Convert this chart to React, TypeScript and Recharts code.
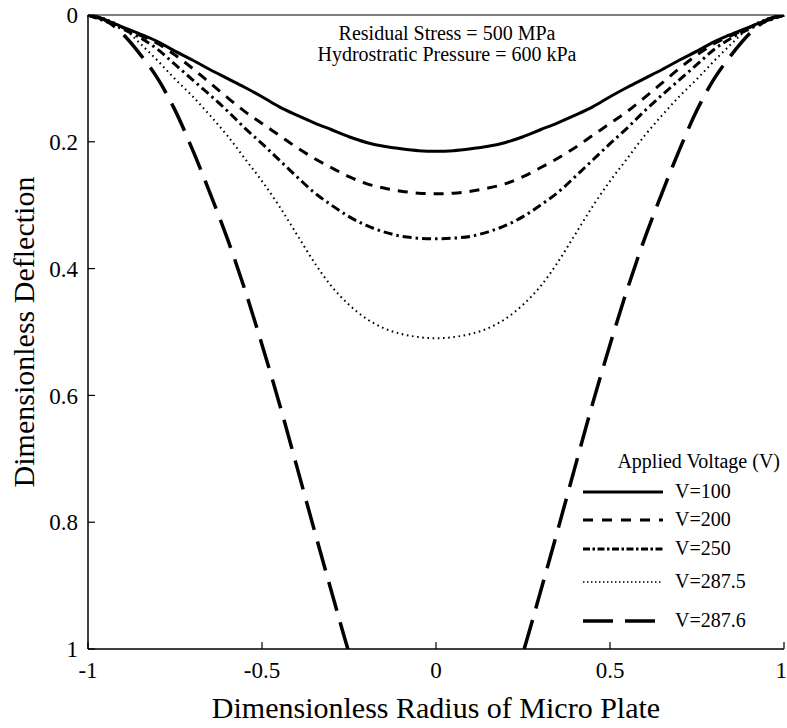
import React from 'react';
import { LineChart, Line, XAxis, YAxis, Legend, ReferenceLine } from 'recharts';

const FONT = "'Liberation Serif', 'Times New Roman', Times, 'DejaVu Serif', serif";

// Dimensionless radius positions
const radius = [
  -1, -0.95, -0.9, -0.85, -0.8, -0.75, -0.7, -0.65, -0.6, -0.55, -0.5,
  -0.45, -0.4, -0.35, -0.3, -0.25, -0.2, -0.15, -0.1, -0.05, 0,
  0.05, 0.1, 0.15, 0.2, 0.25, 0.3, 0.35, 0.4, 0.45, 0.5,
  0.55, 0.6, 0.65, 0.7, 0.75, 0.8, 0.85, 0.9, 0.95, 1,
];

// Dimensionless deflection for each applied voltage
const v100 = [
  0, 0.008, 0.019, 0.03, 0.042, 0.057, 0.071, 0.086, 0.1, 0.114, 0.129,
  0.145, 0.158, 0.17, 0.181, 0.192, 0.201, 0.207, 0.211, 0.214, 0.215,
  0.214, 0.211, 0.207, 0.201, 0.192, 0.181, 0.17, 0.158, 0.145, 0.129,
  0.114, 0.1, 0.086, 0.071, 0.057, 0.042, 0.03, 0.019, 0.008, 0,
];
const v200 = [
  0, 0.009, 0.02, 0.032, 0.045, 0.063, 0.084, 0.107, 0.13, 0.152, 0.171,
  0.19, 0.209, 0.226, 0.241, 0.255, 0.266, 0.273, 0.278, 0.281, 0.282,
  0.281, 0.278, 0.273, 0.266, 0.255, 0.241, 0.226, 0.209, 0.19, 0.171,
  0.152, 0.13, 0.107, 0.084, 0.063, 0.045, 0.032, 0.02, 0.009, 0,
];
const v250 = [
  0, 0.01, 0.022, 0.036, 0.054, 0.078, 0.102, 0.126, 0.151, 0.178, 0.203,
  0.229, 0.255, 0.28, 0.3, 0.318, 0.332, 0.342, 0.349, 0.352, 0.353,
  0.352, 0.349, 0.342, 0.332, 0.318, 0.3, 0.28, 0.255, 0.229, 0.203,
  0.178, 0.151, 0.126, 0.102, 0.078, 0.054, 0.036, 0.022, 0.01, 0,
];
const v2875 = [
  0, 0.006, 0.02, 0.045, 0.072, 0.101, 0.128, 0.158, 0.19, 0.226, 0.262,
  0.302, 0.346, 0.39, 0.428, 0.457, 0.479, 0.494, 0.503, 0.508, 0.51,
  0.508, 0.503, 0.494, 0.479, 0.457, 0.428, 0.39, 0.346, 0.302, 0.262,
  0.226, 0.19, 0.158, 0.128, 0.101, 0.072, 0.045, 0.02, 0.006, 0,
];
const v2876 = [
  0, 0.008, 0.03, 0.062, 0.1, 0.15, 0.212, 0.28, 0.352, 0.432, 0.52,
  0.613, 0.712, 0.812, 0.91, 1.006, 1.09, 1.15, 1.19, 1.215, 1.225,
  1.215, 1.19, 1.15, 1.09, 1.006, 0.91, 0.812, 0.712, 0.613, 0.52,
  0.432, 0.352, 0.28, 0.212, 0.15, 0.1, 0.062, 0.03, 0.008, 0,
];

const xTicks = [-1, -0.5, 0, 0.5, 1];
const yTicks = [0, 0.2, 0.4, 0.6, 0.8, 1];

const seriesNames = ['V=100', 'V=200', 'V=250', 'V=287.5', 'V=287.6'];
const seriesKeys = ['v100', 'v200', 'v250', 'v2875', 'v2876'];
const seriesValues = [v100, v200, v250, v2875, v2876];

const lineStyles = [
  { dash: undefined as string | undefined, width: 3, legendDash: undefined as string | undefined },
  { dash: '10 8', width: 3, legendDash: '10 9' },
  { dash: '9 4 2.5 4', width: 3, legendDash: '7 2.5 2.5 2.5' },
  { dash: '1.6 3.6', width: 2, legendDash: '1.5 2.5' },
  { dash: '30 12', width: 3.5, legendDash: '30 12' },
];

const data = radius.map((x, i) => {
  const row: Record<string, number> = { x };
  seriesKeys.forEach((k, j) => {
    row[k] = seriesValues[j][i];
  });
  return row;
});

const legendRows = [52, 80, 109, 142, 181];

const LegendBox = () => (
  <svg width={215} height={200} style={{ display: 'block', overflow: 'visible' }}>
    <text x={205} y={28} textAnchor="end" fontSize={20} style={{ fontFamily: FONT }} fill="#000">
      Applied Voltage (V)
    </text>
    {seriesNames.map((name, i) => (
      <g key={name}>
        <line
          x1={8}
          x2={88}
          y1={legendRows[i]}
          y2={legendRows[i]}
          stroke="#000"
          strokeWidth={i === 3 ? 1.5 : lineStyles[i].width}
          strokeDasharray={lineStyles[i].legendDash}
        />
        <text x={100} y={legendRows[i] + 6} fontSize={20} style={{ fontFamily: FONT }} fill="#000">
          {name}
        </text>
      </g>
    ))}
  </svg>
);

const Annotation = () => (
  <g>
    <text x={447} y={40} textAnchor="middle" fontSize={20} style={{ fontFamily: FONT }} fill="#000">
      Residual Stress = 500 MPa
    </text>
    <text x={447} y={61} textAnchor="middle" fontSize={20} style={{ fontFamily: FONT }} fill="#000">
      Hydrostratic Pressure = 600 kPa
    </text>
  </g>
);

const YTitle = () => (
  <text
    x={34}
    y={332}
    transform="rotate(-90 34 332)"
    textAnchor="middle"
    fontSize={30}
    style={{ fontFamily: FONT }}
    fill="#000"
  >
    Dimensionless Deflection
  </text>
);

const XTitle = () => (
  <text x={436} y={718} textAnchor="middle" fontSize={30} style={{ fontFamily: FONT }} fill="#000">
    Dimensionless Radius of Micro Plate
  </text>
);

const tickStyle = { fill: '#000', fontSize: 23, style: { fontFamily: FONT } };

export default function App() {
  return (
    <div style={{ position: 'absolute', left: 0, top: 0, width: 787, height: 728, background: '#fff', fontFamily: FONT }}>
      <LineChart
        width={787}
        height={728}
        data={data}
        margin={{ top: 15, right: 3, bottom: 0, left: 0 }}
        style={{ fontFamily: FONT }}
      >
        <XAxis
          dataKey="x"
          type="number"
          domain={[-1, 1]}
          ticks={xTicks}
          height={79}
          tick={tickStyle}
          tickSize={-7}
          tickMargin={20}
          axisLine={{ stroke: '#000', strokeWidth: 1.5 }}
          tickLine={{ stroke: '#000', strokeWidth: 1.2 }}
          label={() => <XTitle />}
        />
        <YAxis
          type="number"
          domain={[0, 1]}
          reversed
          allowDataOverflow
          ticks={yTicks}
          width={88}
          tick={tickStyle}
          tickSize={-7}
          tickMargin={17}
          axisLine={{ stroke: '#000', strokeWidth: 1.5 }}
          tickLine={{ stroke: '#000', strokeWidth: 1.2 }}
          label={() => <YTitle />}
        />
        <YAxis
          yAxisId="right"
          orientation="right"
          type="number"
          domain={[0, 1]}
          width={0}
          tick={false}
          tickLine={false}
          axisLine={{ stroke: '#000', strokeWidth: 1.5 }}
        />
        <ReferenceLine
          y={0}
          stroke="#555"
          strokeWidth={1.5}
          ifOverflow="visible"
          label={() => <Annotation />}
        />
        {seriesKeys.map((k, i) => (
          <Line
            key={k}
            dataKey={k}
            name={seriesNames[i]}
            type="monotone"
            stroke="#000"
            strokeWidth={lineStyles[i].width}
            strokeDasharray={lineStyles[i].dash}
            dot={false}
            activeDot={false}
            isAnimationActive={false}
          />
        ))}
        <Legend
          layout="horizontal"
          verticalAlign="middle"
          align="center"
          wrapperStyle={{ left: 575, top: 440, width: 215, height: 200 }}
          content={() => <LegendBox />}
        />
      </LineChart>
    </div>
  );
}
